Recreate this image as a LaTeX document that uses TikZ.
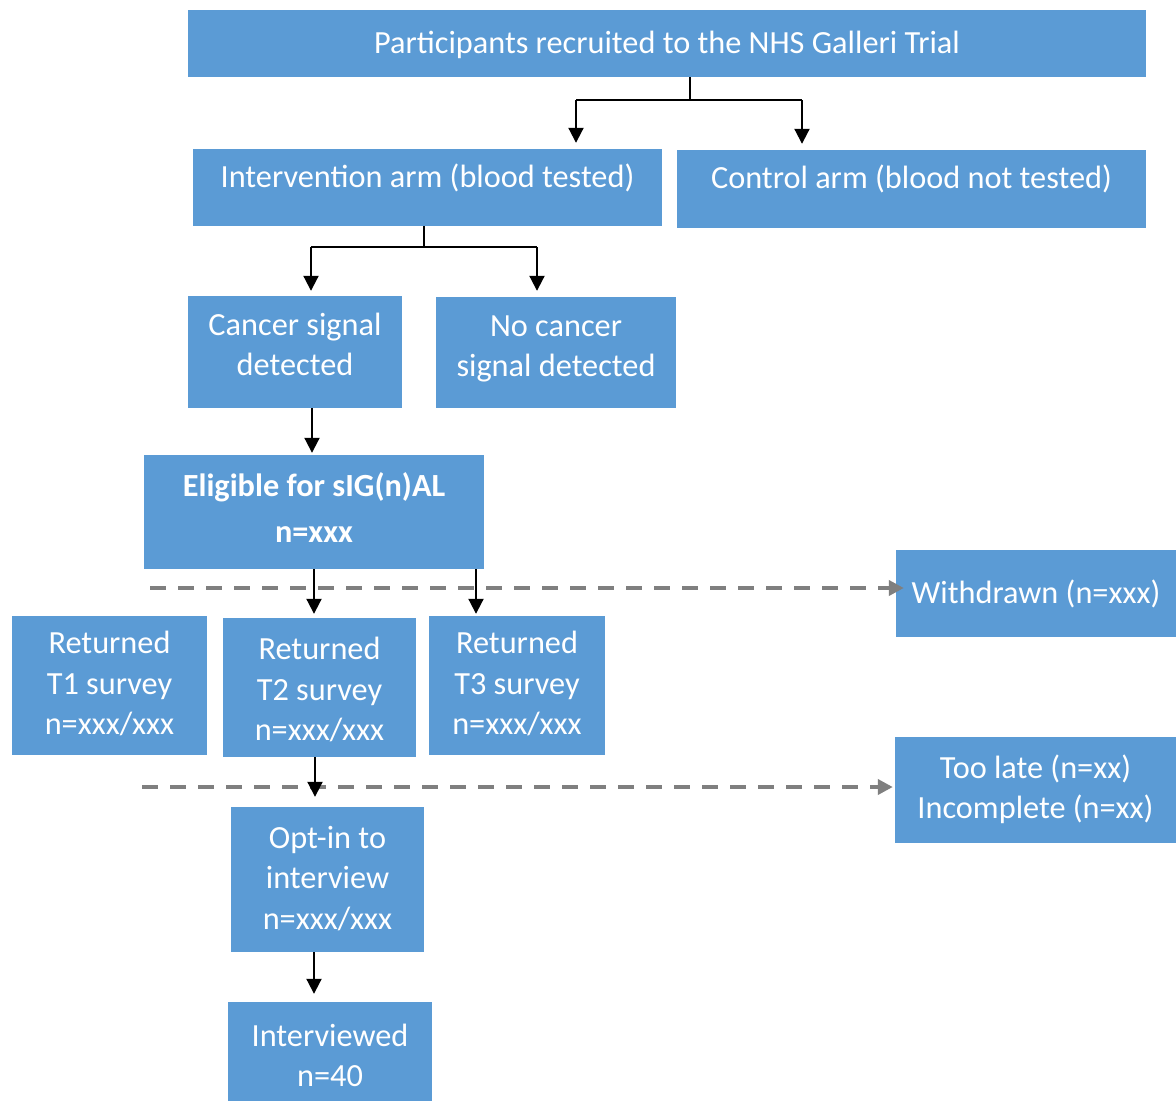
\documentclass[tikz,border=0pt]{standalone}
\usepackage{fontspec}
\setmainfont{Carlito}
\usetikzlibrary{arrows.meta}
\definecolor{boxblue}{HTML}{5B9BD5}
\definecolor{dashgray}{HTML}{7F7F7F}
\newcommand\mylines[1]{\begin{tabular}[t]{@{}c@{}}#1\end{tabular}}
\begin{document}
\begin{tikzpicture}[x=1pt,y=-1pt,
  box/.style={fill=boxblue, inner sep=0pt, text=white, font=\fontsize{32.3}{40.7}\selectfont},
  tb/.style 2 args={text height=#1, text depth=#2},
  conn/.style={line width=2pt, black},
  arr/.style={conn, -{Triangle[width=15pt,length=15pt]}},
  darr/.style={line width=4pt, dashgray, dash pattern=on 16pt off 12pt, -{Triangle[width=15pt,length=15pt]}}]
\useasboundingbox[fill=white] (0,0) rectangle (1176,1101);

\node[box, minimum width=958pt, minimum height=67pt, tb={39.5pt}{20.5pt}] (top) at (667,43.5) {Participants recruited to the NHS Galleri Trial};
\node[box, minimum width=469pt, minimum height=77pt, tb={37.5pt}{38.5pt}] (interv) at (427.5,187.5) {Intervention arm (blood tested)};
\node[box, minimum width=469pt, minimum height=78pt, tb={37.5pt}{38.5pt}] (control) at (911.5,189) {Control arm (blood not tested)};
\node[box, minimum width=214pt, minimum height=112pt, tb={21pt}{55pt}] (cancer) at (295,352) {\mylines{Cancer signal\\detected}};
\node[box, minimum width=240pt, minimum height=111pt, tb={21.5pt}{54.5pt}] (nocancer) at (556,352.5) {\mylines{No cancer\\signal detected}};
\node[box, minimum width=340pt, minimum height=114pt, tb={22pt}{54pt}, font=\fontsize{32.3}{40.7}\selectfont\bfseries] (elig) at (314,512) {\mylines{Eligible for sIG(n)AL\\[5.5pt]n=xxx}};
\node[box, minimum width=280pt, minimum height=87pt, tb={47.5pt}{28.5pt}] (withdrawn) at (1036,593.5) {Withdrawn (n=xxx)};
\node[box, minimum width=195pt, minimum height=139pt, tb={6pt}{70pt}] (t1) at (109.5,685.5) {\mylines{Returned\\T1 survey\\n=xxx/xxx}};
\node[box, minimum width=193pt, minimum height=139pt, tb={10pt}{66pt}] (t2) at (319.5,687.5) {\mylines{Returned\\T2 survey\\n=xxx/xxx}};
\node[box, minimum width=176pt, minimum height=139pt, tb={6pt}{70pt}] (t3) at (517,685.5) {\mylines{Returned\\T3 survey\\n=xxx/xxx}};
\node[box, minimum width=281pt, minimum height=106pt, tb={26pt}{50pt}] (toolate) at (1035.5,790) {\mylines{Too late (n=xx)\\Incomplete (n=xx)}};
\node[box, minimum width=193pt, minimum height=145pt, tb={6.5pt}{69.5pt}] (optin) at (327.5,879.5) {\mylines{Opt-in to\\interview\\n=xxx/xxx}};
\node[box, minimum width=204pt, minimum height=99pt, tb={32.5pt}{43.5pt}] (interviewed) at (330,1051.5) {\mylines{Interviewed\\n=40}};

% junction coordinates
\coordinate (s1) at (690,100);
\coordinate (a1) at (576,100);
\coordinate (a2) at (802,100);
\coordinate (s2) at (424,247);
\coordinate (a3) at (311,247);
\coordinate (a4) at (537,247);
\coordinate (c1) at (312,0);
\coordinate (e1) at (314,0);
\coordinate (e2) at (476,0);
\coordinate (r2) at (315,0);
\coordinate (o1) at (314,0);
\coordinate (d1) at (150,588);
\coordinate (d2) at (142,787);

% dashed exclusion arrows
\draw[darr] (d1) -- ([xshift=8pt]withdrawn.west |- d1);
\draw[darr] (d2) -- ([xshift=-2pt]toolate.west |- d2);

% connectors
\draw[conn] (top.south -| s1) -- (s1);
\draw[conn] (a1) -- (a2);
\draw[arr, shorten >=6pt] (a1) -- (interv.north -| a1);
\draw[arr, shorten >=6pt] (a2) -- (control.north -| a2);
\draw[conn] (interv.south -| s2) -- (s2);
\draw[conn] (a3) -- (a4);
\draw[arr, shorten >=5pt] (a3) -- (cancer.north -| a3);
\draw[arr, shorten >=6pt] (a4) -- (nocancer.north -| a4);
\draw[arr, shorten >=2pt] (cancer.south -| c1) -- (elig.north -| c1);
\draw[arr, shorten >=4pt] (elig.south -| e1) -- (t2.north -| e1);
\draw[arr, shorten >=2pt] (elig.south -| e2) -- (t3.north -| e2);
\draw[arr, shorten >=10pt] (t2.south -| r2) -- (optin.north -| r2);
\draw[arr, shorten >=8pt] (optin.south -| o1) -- (interviewed.north -| o1);
\end{tikzpicture}
\end{document}
